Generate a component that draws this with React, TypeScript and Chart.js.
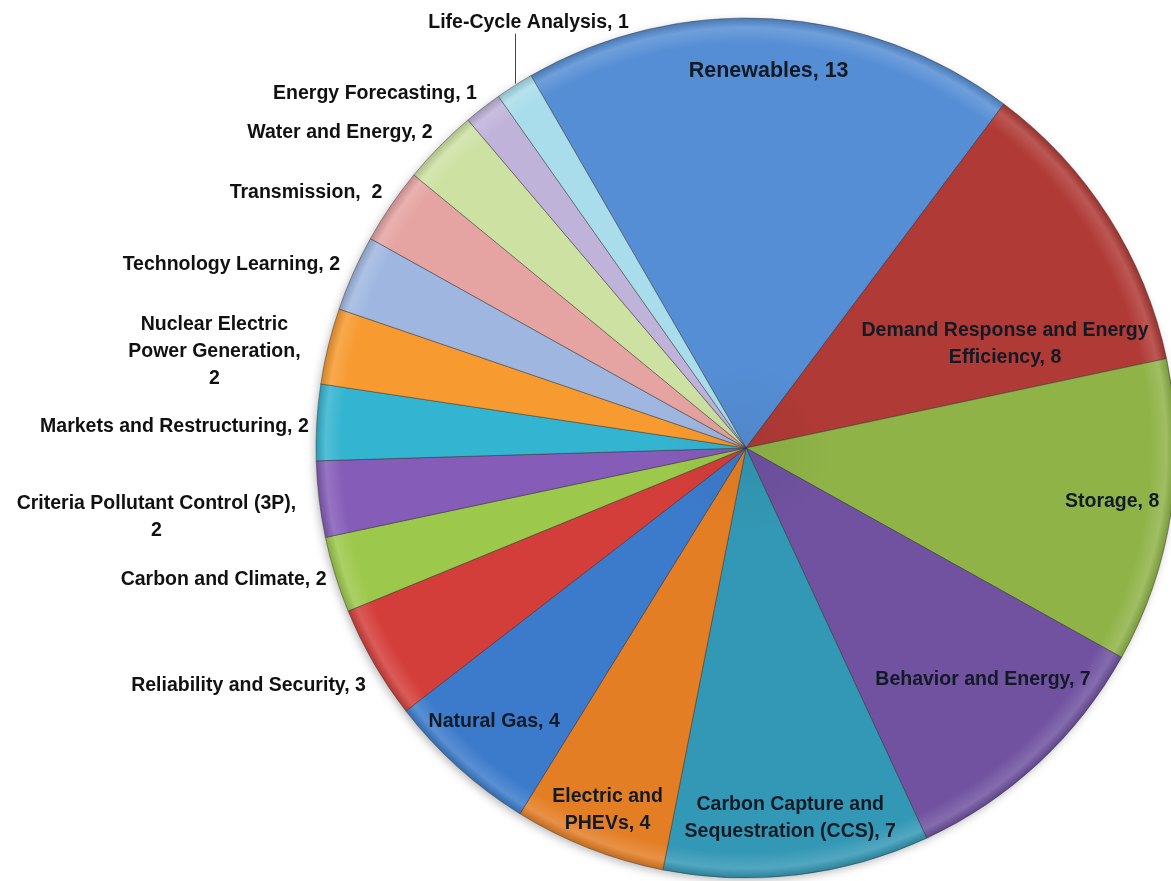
import React, { useEffect, useRef } from 'react';
import { Chart, registerables } from 'chart.js';

Chart.register(...registerables);

// ---- data ----
const categories = [
  'Renewables',
  'Demand Response and Energy|Efficiency',
  'Storage',
  'Behavior and Energy',
  'Carbon Capture and|Sequestration (CCS)',
  'Electric and|PHEVs',
  'Natural Gas',
  'Reliability and Security',
  'Carbon and Climate',
  'Criteria Pollutant Control (3P)',
  'Markets and Restructuring',
  'Nuclear Electric|Power Generation',
  'Technology Learning',
  'Transmission',
  'Water and Energy',
  'Energy Forecasting',
  'Life-Cycle Analysis',
];
const values = [13, 8, 8, 7, 7, 4, 4, 3, 2, 2, 2, 2, 2, 2, 2, 1, 1];
const separators = [', ', ', ', ', ', ', ', ', ', ', ', ', ', ', ', ', ', ',|', ', ', ',|', ', ', ',  ', ', ', ', ', ', '];

// ---- style ----
const colors = [
  '#558ED5', '#B03A36', '#8FB347', '#7052A0', '#3398B5', '#E47E25', '#3C7BCB',
  '#D43E3A', '#9CC84B', '#855CB8', '#33B4D0', '#F79A2F', '#9FB7E0', '#E5A3A1',
  '#CDE1A3', '#BFB3DA', '#A9DDEB',
];

type Lay =
  | { mode: 'in'; f: number; da: number; scale?: number }
  | { mode: 'out'; dx: number; dy: number }
  | { mode: 'leader'; len: number; dx: number; dy: number };

const labelLayout: Lay[] = [
  { mode: 'in', f: 0.883, da: 0, scale: 1.1 },
  { mode: 'in', f: 0.651, da: 10.3 },
  { mode: 'in', f: 0.86, da: -0.5 },
  { mode: 'in', f: 0.768, da: -3 },
  { mode: 'in', f: 0.862, da: 0 },
  { mode: 'in', f: 0.897, da: -0.4 },
  { mode: 'in', f: 0.862, da: 0.8 },
  { mode: 'out', dx: 1, dy: 16 },
  { mode: 'out', dx: 1, dy: 0 },
  { mode: 'out', dx: -13, dy: 15 },
  { mode: 'out', dx: 2, dy: 3 },
  { mode: 'out', dx: -18, dy: 6 },
  { mode: 'out', dx: -4, dy: -6 },
  { mode: 'out', dx: 0, dy: -10 },
  { mode: 'out', dx: 0, dy: -9 },
  { mode: 'out', dx: 0, dy: -8 },
  { mode: 'leader', len: 52, dx: 14, dy: 13 },
];

const FONT_SIZE = 19.5;
const LINE_H = 27;
const TEXT_SHIFT = 2;
const PIE_RADIUS = 430;

function hexToRgb(h: string) {
  const n = parseInt(h.slice(1), 16);
  return [(n >> 16) & 255, (n >> 8) & 255, n & 255];
}
function mix(h: string, target: number, t: number) {
  const [r, g, b] = hexToRgb(h);
  const m = (c: number) => Math.round(c + (target - c) * t);
  return `rgb(${m(r)},${m(g)},${m(b)})`;
}

const labelLines = categories.map((c, i) => (c + separators[i] + values[i]).split('|'));

const shadowPlugin = {
  id: 'pieShadow',
  beforeDatasetsDraw(chart: any) {
    const meta = chart.getDatasetMeta(0);
    const a = meta.data[0];
    if (!a) return;
    const p = a.getProps(['x', 'y', 'outerRadius'], true);
    const ctx = chart.ctx;
    ctx.save();
    ctx.shadowColor = 'rgba(0,0,0,0.3)';
    ctx.shadowBlur = 10;
    ctx.shadowOffsetX = -2;
    ctx.shadowOffsetY = 3;
    ctx.fillStyle = '#888';
    ctx.beginPath();
    ctx.arc(p.x, p.y, p.outerRadius - 1, 0, Math.PI * 2);
    ctx.fill();
    ctx.restore();
  },
};

const labelPlugin = {
  id: 'sliceLabels',
  afterDatasetsDraw(chart: any) {
    const ctx = chart.ctx;
    const meta = chart.getDatasetMeta(0);
    ctx.save();
    ctx.textBaseline = 'middle';
    ctx.textAlign = 'center';
    meta.data.forEach((arc: any, i: number) => {
      const p = arc.getProps(['x', 'y', 'startAngle', 'endAngle', 'outerRadius'], true);
      const lay = labelLayout[i];
      const scale = lay.mode === 'in' && lay.scale ? lay.scale : 1;
      ctx.font = `bold ${FONT_SIZE * scale}px "Liberation Sans", Arial, sans-serif`;
      const lines = labelLines[i];
      const w = Math.max(...lines.map((l) => ctx.measureText(l).width));
      const h = lines.length * LINE_H;
      let mid = (p.startAngle + p.endAngle) / 2;
      let cx = 0;
      let cy = 0;
      if (lay.mode === 'in') {
        mid += (lay.da * Math.PI) / 180;
        const r = p.outerRadius * lay.f;
        cx = p.x + Math.cos(mid) * r;
        cy = p.y + Math.sin(mid) * r;
        ctx.fillStyle = '#121a26';
      } else if (lay.mode === 'out') {
        const r = p.outerRadius + 10;
        const ax = p.x + Math.cos(mid) * r;
        const ay = p.y + Math.sin(mid) * r;
        cx = ax + lay.dx - w / 2;
        cy = ay + lay.dy;
        ctx.fillStyle = '#111';
      } else {
        const ex = p.x + Math.cos(mid) * p.outerRadius;
        const ey = p.y + Math.sin(mid) * p.outerRadius;
        ctx.strokeStyle = '#444';
        ctx.lineWidth = 1;
        ctx.beginPath();
        ctx.moveTo(Math.round(ex) + 0.5, ey - 2);
        ctx.lineTo(Math.round(ex) + 0.5, ey - lay.len);
        ctx.stroke();
        cx = ex + lay.dx;
        cy = ey - lay.len - lay.dy;
        ctx.fillStyle = '#111';
      }
      cy += TEXT_SHIFT;
      lines.forEach((l, k) => ctx.fillText(l, cx, cy - h / 2 + LINE_H * (k + 0.5)));
    });
    ctx.restore();
  },
};

export default function App() {
  const ref = useRef<HTMLCanvasElement>(null);
  useEffect(() => {
    document.body.style.margin = '0';
    const canvas = ref.current!;
    const chart = new Chart(canvas, {
      type: 'pie',
      data: {
        labels: categories.map((c) => c.replace('|', ' ')),
        datasets: [
          {
            data: values,
            backgroundColor: (c: any) => {
              const base = colors[c.dataIndex];
              const ch = c.chart;
              const area = ch.chartArea;
              if (!area) return base;
              const cx = (area.left + area.right) / 2;
              const cy = (area.top + area.bottom) / 2;
              const g = ch.ctx.createRadialGradient(cx, cy, 0, cx, cy, PIE_RADIUS);
              g.addColorStop(0, mix(base, 0, 0.05));
              g.addColorStop(0.2, base);
              g.addColorStop(0.94, base);
              g.addColorStop(0.978, mix(base, 255, 0.15));
              g.addColorStop(1, mix(base, 0, 0.15));
              return g;
            },
            borderColor: 'rgba(50,50,50,0.45)',
            borderWidth: 1,
            radius: PIE_RADIUS,
            clip: false,
          } as any,
        ],
      },
      options: {
        responsive: false,
        animation: false,
        events: [],
        rotation: -30,
        layout: { padding: { left: 321, right: 0, top: 15, bottom: 0 } },
        plugins: { legend: { display: false }, tooltip: { enabled: false } },
      },
      plugins: [shadowPlugin, labelPlugin],
    });
    return () => chart.destroy();
  }, []);
  return (
    <div style={{ position: 'fixed', left: 0, top: 0, width: 1171, height: 881, background: '#fff', overflow: 'hidden' }}>
      <canvas ref={ref} width={1171} height={881} style={{ width: 1171, height: 881, display: 'block' }} />
    </div>
  );
}
